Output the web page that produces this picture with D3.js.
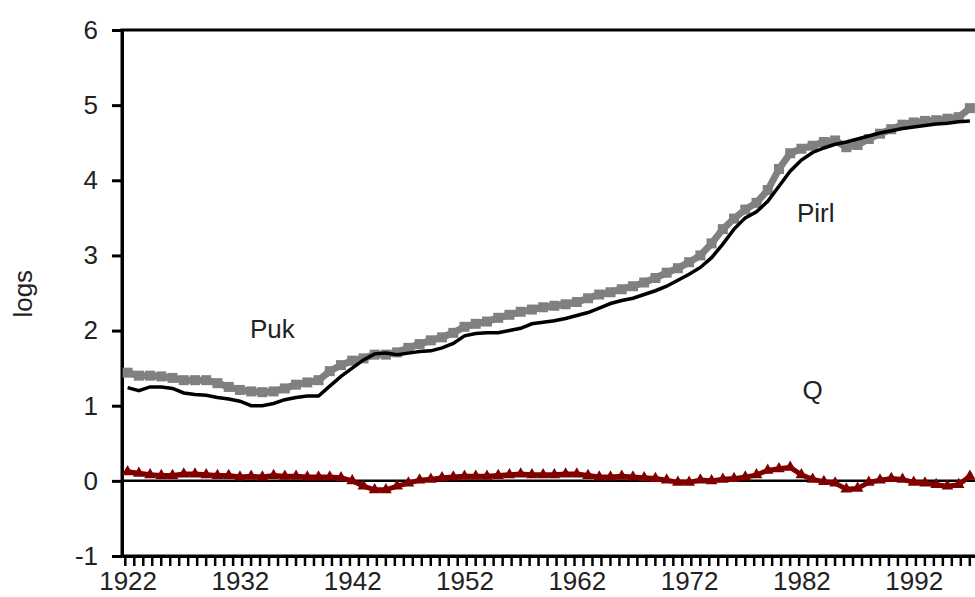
<!DOCTYPE html>
<html>
<head>
<meta charset="utf-8">
<script src="https://cdn.jsdelivr.net/npm/d3@7"></script>
<style>
  html, body { margin: 0; padding: 0; background: #fff; overflow: hidden; }
  svg { display: block; font-family: "Liberation Sans", Arial, sans-serif; }
</style>
</head>
<body>
<svg id="chart" width="975" height="597"></svg>
<script>
// annual values
const years = [1922,1923,1924,1925,1926,1927,1928,1929,1930,1931,
  1932,1933,1934,1935,1936,1937,1938,1939,1940,1941,
  1942,1943,1944,1945,1946,1947,1948,1949,1950,1951,
  1952,1953,1954,1955,1956,1957,1958,1959,1960,1961,
  1962,1963,1964,1965,1966,1967,1968,1969,1970,1971,
  1972,1973,1974,1975,1976,1977,1978,1979,1980,1981,
  1982,1983,1984,1985,1986,1987,1988,1989,1990,1991,
  1992,1993,1994,1995,1996,1997]

const pirl = [1.24,1.20,1.25,1.25,1.23,1.17,1.15,1.14,1.11,1.09,
  1.06,1.00,1.00,1.03,1.08,1.11,1.13,1.13,1.26,1.39,
  1.50,1.61,1.69,1.70,1.68,1.70,1.72,1.73,1.77,1.83,
  1.93,1.96,1.97,1.97,2.00,2.03,2.09,2.11,2.13,2.16,
  2.20,2.24,2.30,2.36,2.40,2.43,2.48,2.53,2.59,2.67,
  2.75,2.84,2.97,3.15,3.35,3.50,3.58,3.72,3.92,4.12,
  4.27,4.37,4.43,4.48,4.51,4.55,4.59,4.63,4.66,4.69,
  4.71,4.73,4.75,4.76,4.78,4.79]

const puk = [1.44,1.40,1.40,1.39,1.37,1.34,1.34,1.34,1.30,1.25,
  1.21,1.19,1.18,1.19,1.23,1.28,1.31,1.34,1.46,1.54,
  1.60,1.63,1.68,1.68,1.71,1.77,1.82,1.87,1.91,1.97,
  2.05,2.09,2.12,2.17,2.21,2.25,2.28,2.31,2.33,2.35,
  2.38,2.43,2.48,2.51,2.55,2.59,2.64,2.70,2.77,2.83,
  2.91,3.00,3.16,3.35,3.49,3.61,3.70,3.87,4.15,4.36,
  4.42,4.46,4.51,4.53,4.44,4.47,4.55,4.62,4.68,4.74,
  4.77,4.79,4.80,4.82,4.84,4.96]

const q = [0.12,0.10,0.08,0.07,0.07,0.09,0.09,0.08,0.07,0.07,
  0.05,0.06,0.05,0.07,0.06,0.06,0.05,0.05,0.05,0.04,
  0.00,-0.07,-0.12,-0.12,-0.07,-0.03,0.01,0.02,0.04,0.05,
  0.06,0.06,0.06,0.07,0.08,0.09,0.08,0.08,0.08,0.09,
  0.09,0.07,0.05,0.05,0.06,0.05,0.04,0.03,0.01,-0.02,
  -0.02,0.01,0.00,0.02,0.03,0.05,0.08,0.14,0.16,0.18,
  0.08,0.02,-0.01,-0.03,-0.11,-0.10,-0.02,0.01,0.03,0.02,
  -0.02,-0.03,-0.05,-0.07,-0.05,0.06]

const yTicks = [-1,0,1,2,3,4,5,6]
const yearLabels = [1922,1932,1942,1952,1962,1972,1982,1992]

// series names written inside the plot (year, value of the baseline)
const seriesLabels = [
  {text: "Puk", year: 1932.9, value: 1.90},
  {text: "Pirl", year: 1981.6, value: 3.45},
  {text: "Q", year: 1982.1, value: 1.09}
]

const svg = d3.select('#chart')

const x = d3.scaleLinear().domain([1921.5, 1999.5]).range([122, 122 + 78 * 11.23])
const y = d3.scaleLinear().domain([-1, 6]).range([556, 30])

// plot frame (right side runs off the picture)
svg.append('rect')
  .attr('x', x(1921.5))
  .attr('y', y(6))
  .attr('width', x(1999.5) - x(1921.5))
  .attr('height', y(-1) - y(6))
  .attr('fill', 'none')
  .attr('stroke', 'black')
  .attr('stroke-width', 3)

// zero line
svg.append('line')
  .attr('x1', x(1921.5)).attr('x2', x(1999.5))
  .attr('y1', y(0)).attr('y2', y(0))
  .attr('stroke', 'black')
  .attr('stroke-width', 2.5)

// y axis
const yAxis = svg.append('g')
  .attr('transform', `translate(${x(1921.5)},0)`)
  .call(d3.axisLeft(y).tickValues(yTicks).tickSize(10).tickPadding(14)
    .tickSizeOuter(0).tickFormat(d => String(d)))
yAxis.select('.domain').attr('stroke-width', 3)
yAxis.selectAll('.tick line').attr('stroke-width', 3)
yAxis.selectAll('.tick text')
  .style('font-size', '26px')
  .attr('fill', '#222')

// x axis: dense comb of ticks, labels every ten years
const xTicks = svg.append('g')
  .attr('transform', `translate(0,${y(-1)})`)
  .call(d3.axisBottom(x).tickValues(d3.range(1921.75, 1999.5, 0.8))
    .tickSize(10).tickFormat('').tickSizeOuter(0))
xTicks.select('.domain').attr('stroke-width', 3)
xTicks.selectAll('.tick line').attr('stroke-width', 2.5)

const xLabels = svg.append('g')
  .attr('transform', `translate(0,${y(-1)})`)
  .call(d3.axisBottom(x).tickValues(yearLabels).tickSize(0).tickPadding(16).tickFormat(d3.format('d')))
xLabels.select('.domain').remove()
xLabels.selectAll('.tick text')
  .style('font-size', '26px')
  .attr('fill', '#222')

// y title
svg.append('text')
  .attr('transform', `translate(32,${y(2.49)}) rotate(-90)`)
  .attr('text-anchor', 'middle')
  .style('font-size', '26px')
  .attr('fill', '#222')
  .text('logs')

const rows = years.map((yr, i) => ({year: yr, pirl: pirl[i], puk: puk[i], q: q[i]}))

const lineOf = key => d3.line().x(d => x(d.year)).y(d => y(d[key]))

// Q: dark red line with triangles
svg.append('path')
  .datum(rows)
  .attr('d', lineOf('q'))
  .attr('fill', 'none')
  .attr('stroke', '#800000')
  .attr('stroke-width', 5)

svg.append('g')
  .selectAll('path.tri')
  .data(rows)
  .enter()
  .append('path')
  .classed('tri', true)
  .attr('d', d3.symbol().type(d3.symbolTriangle).size(60))
  .attr('transform', d => `translate(${x(d.year)},${y(d.q)})`)
  .attr('fill', '#800000')

// Puk: gray line with squares
svg.append('path')
  .datum(rows)
  .attr('d', lineOf('puk'))
  .attr('fill', 'none')
  .attr('stroke', '#808080')
  .attr('stroke-width', 7)

svg.append('g')
  .selectAll('rect.sq')
  .data(rows)
  .enter()
  .append('rect')
  .classed('sq', true)
  .attr('x', d => x(d.year) - 5)
  .attr('y', d => y(d.puk) - 5)
  .attr('width', 10)
  .attr('height', 10)
  .attr('fill', '#808080')

// Pirl: black line
svg.append('path')
  .datum(rows)
  .attr('d', lineOf('pirl'))
  .attr('fill', 'none')
  .attr('stroke', 'black')
  .attr('stroke-width', 3.5)

// series names
svg.selectAll('text.name')
  .data(seriesLabels)
  .enter()
  .append('text')
  .classed('name', true)
  .attr('x', d => x(d.year))
  .attr('y', d => y(d.value))
  .style('font-size', '26px')
  .attr('fill', '#222')
  .text(d => d.text)
</script>
</body>
</html>
